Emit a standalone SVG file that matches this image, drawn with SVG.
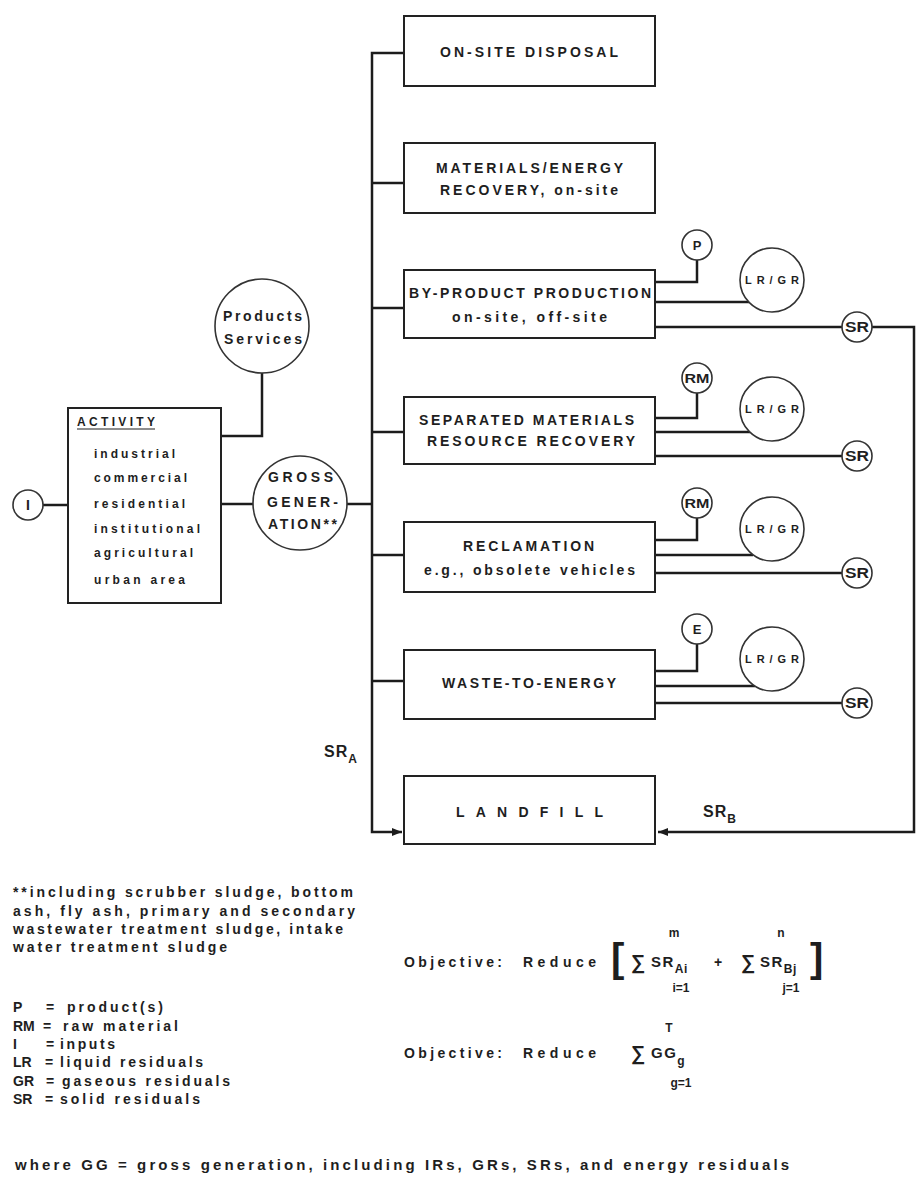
<svg xmlns="http://www.w3.org/2000/svg" width="917" height="1181" viewBox="0 0 917 1181">
<style>
.ln{stroke:#1c1c1c;stroke-width:2.5;fill:none}
.bx{fill:#fff;stroke:#222;stroke-width:2}
.cc{fill:#fff;stroke:#333;stroke-width:1.6}
.t{font-family:"Liberation Sans",Arial,sans-serif;font-weight:bold;fill:#1e1e1e}
.b{font-size:14px}
.s{font-size:12px}
.m{text-anchor:middle}
</style>
<defs>
<marker id="ah" viewBox="0 0 10 10" refX="10" refY="5" markerWidth="4" markerHeight="4" orient="auto" markerUnits="strokeWidth">
<path d="M0,1 L10,5 L0,9 z" fill="#1c1c1c"/>
</marker>
</defs>
<rect width="917" height="1181" fill="#fff"/>

<g id="connectors">
<path class="ln" d="M404,53 H372 V832 H402" marker-end="url(#ah)"/>
<path class="ln" d="M372,183 H404 M372,308 H404 M372,432 H404 M372,555 H404 M372,681 H404"/>
<path class="ln" d="M43,505 H68 M221,504 H253 M347,504 H372 M221,436 H262 V373"/>
<path class="ln" d="M655,282 H697 V260 M655,302 H749 M655,327 H842"/>
<path class="ln" d="M872,327 H914 V832 H658" marker-end="url(#ah)"/>
<path class="ln" d="M655,418 H697 V393 M655,432 H750 M655,456 H842"/>
<path class="ln" d="M655,540 H697 V518 M655,555 H753 M655,573 H842"/>
<path class="ln" d="M655,671 H697 V644 M655,686 H755 M655,703 H842"/>
</g>

<g id="onsite-disposal">
<rect class="bx" x="404" y="16" width="251" height="70"/>
<text class="t b" x="440" y="57" textLength="178" lengthAdjust="spacing">ON-SITE DISPOSAL</text>
</g>
<g id="materials-energy">
<rect class="bx" x="404" y="143" width="251" height="70"/>
<text class="t b" x="436" y="173" textLength="187" lengthAdjust="spacing">MATERIALS/ENERGY</text>
<text class="t b" x="440" y="195" textLength="178" lengthAdjust="spacing">RECOVERY, on-site</text>
</g>
<g id="by-product">
<rect class="bx" x="404" y="270" width="251" height="68"/>
<text class="t b" x="409" y="298" textLength="242" lengthAdjust="spacing">BY-PRODUCT PRODUCTION</text>
<text class="t b" x="452" y="322" textLength="155" lengthAdjust="spacing">on-site, off-site</text>
</g>
<g id="separated">
<rect class="bx" x="404" y="397" width="251" height="67"/>
<text class="t b" x="419" y="425" textLength="215" lengthAdjust="spacing">SEPARATED MATERIALS</text>
<text class="t b" x="427" y="446" textLength="208" lengthAdjust="spacing">RESOURCE RECOVERY</text>
</g>
<g id="reclamation">
<rect class="bx" x="404" y="522" width="251" height="70"/>
<text class="t b" x="463" y="551" textLength="131" lengthAdjust="spacing">RECLAMATION</text>
<text class="t b" x="424" y="575" textLength="211" lengthAdjust="spacing">e.g., obsolete vehicles</text>
</g>
<g id="waste-to-energy">
<rect class="bx" x="404" y="650" width="251" height="69"/>
<text class="t b" x="442" y="688" textLength="174" lengthAdjust="spacing">WASTE-TO-ENERGY</text>
</g>
<g id="landfill">
<rect class="bx" x="404" y="776" width="251" height="68"/>
<text class="t b" x="456" y="817" textLength="147" lengthAdjust="spacing">LANDFILL</text>
</g>

<g id="activity">
<rect class="bx" x="68" y="408" width="153" height="195"/>
<text class="t s" x="77" y="426" textLength="78" lengthAdjust="spacing">ACTIVITY</text>
<line x1="77" y1="429" x2="155" y2="429" stroke="#1e1e1e" stroke-width="1.2"/>
<text class="t s" x="94" y="458" textLength="81" lengthAdjust="spacing">industrial</text>
<text class="t s" x="94" y="482" textLength="93" lengthAdjust="spacing">commercial</text>
<text class="t s" x="94" y="508" textLength="91" lengthAdjust="spacing">residential</text>
<text class="t s" x="94" y="533" textLength="106" lengthAdjust="spacing">institutional</text>
<text class="t s" x="94" y="557" textLength="99" lengthAdjust="spacing">agricultural</text>
<text class="t s" x="94" y="584" textLength="91" lengthAdjust="spacing">urban area</text>
</g>
<g id="inputs">
<circle class="cc" cx="28" cy="505" r="15"/>
<text class="t b m" x="28" y="510">I</text>
</g>
<g id="gross-generation">
<circle class="cc" cx="300" cy="503" r="47"/>
<text class="t b" x="268" y="482" textLength="65" lengthAdjust="spacing">GROSS</text>
<text class="t b" x="267" y="507" textLength="71" lengthAdjust="spacing">GENER-</text>
<text class="t b" x="268" y="529" textLength="69" lengthAdjust="spacing">ATION**</text>
</g>
<g id="products-services">
<circle class="cc" cx="262" cy="326" r="47"/>
<text class="t b" x="223" y="321" textLength="79" lengthAdjust="spacing">Products</text>
<text class="t b" x="224" y="344" textLength="78" lengthAdjust="spacing">Services</text>
</g>

<g id="p-circle"><circle class="cc" cx="697" cy="245" r="15"/><text class="t m" font-size="13" x="697" y="250">P</text></g>
<g id="lrgr-1"><circle class="cc" cx="772" cy="280" r="32"/><text class="t m" font-size="11" x="772" y="284" textLength="54" lengthAdjust="spacing">LR/GR</text></g>
<g id="sr-1"><circle class="cc" cx="857" cy="327" r="15"/><text class="t m" font-size="14" x="857" y="332" textLength="24" lengthAdjust="spacingAndGlyphs">SR</text></g>

<g id="rm-circle-1"><circle class="cc" cx="697" cy="378" r="15"/><text class="t m" font-size="13" x="697" y="383" textLength="25" lengthAdjust="spacingAndGlyphs">RM</text></g>
<g id="lrgr-2"><circle class="cc" cx="772" cy="409" r="32"/><text class="t m" font-size="11" x="772" y="413" textLength="54" lengthAdjust="spacing">LR/GR</text></g>
<g id="sr-2"><circle class="cc" cx="857" cy="456" r="15"/><text class="t m" font-size="14" x="857" y="461" textLength="24" lengthAdjust="spacingAndGlyphs">SR</text></g>

<g id="rm-circle-2"><circle class="cc" cx="697" cy="503" r="15"/><text class="t m" font-size="13" x="697" y="508" textLength="25" lengthAdjust="spacingAndGlyphs">RM</text></g>
<g id="lrgr-3"><circle class="cc" cx="772" cy="529" r="32"/><text class="t m" font-size="11" x="772" y="533" textLength="54" lengthAdjust="spacing">LR/GR</text></g>
<g id="sr-3"><circle class="cc" cx="857" cy="573" r="15"/><text class="t m" font-size="14" x="857" y="578" textLength="24" lengthAdjust="spacingAndGlyphs">SR</text></g>

<g id="e-circle"><circle class="cc" cx="697" cy="629" r="15"/><text class="t m" font-size="13" x="697" y="634">E</text></g>
<g id="lrgr-4"><circle class="cc" cx="772" cy="659" r="32"/><text class="t m" font-size="11" x="772" y="663" textLength="54" lengthAdjust="spacing">LR/GR</text></g>
<g id="sr-4"><circle class="cc" cx="857" cy="703" r="15"/><text class="t m" font-size="14" x="857" y="708" textLength="24" lengthAdjust="spacingAndGlyphs">SR</text></g>

<g id="labels">
<text class="t" font-size="16" x="324" y="757" letter-spacing="1">SR<tspan font-size="12" dy="6" letter-spacing="0">A</tspan></text>
<text class="t" font-size="16" x="703" y="817" letter-spacing="1">SR<tspan font-size="12" dy="6" letter-spacing="0">B</tspan></text>
</g>

<g id="notes">
<text class="t b" x="13" y="897" textLength="340" lengthAdjust="spacing">**including scrubber sludge, bottom</text>
<text class="t b" x="13" y="916" textLength="342" lengthAdjust="spacing">ash, fly ash, primary and secondary</text>
<text class="t b" x="13" y="934" textLength="330" lengthAdjust="spacing">wastewater treatment sludge, intake</text>
<text class="t b" x="13" y="952" textLength="214" lengthAdjust="spacing">water treatment sludge</text>
</g>

<g id="legend">
<text class="t b" x="13" y="1012">P</text><text class="t b" x="46" y="1012">=</text><text class="t b" x="67" y="1012" textLength="96" lengthAdjust="spacing">product(s)</text>
<text class="t b" x="13" y="1031">RM</text><text class="t b" x="43" y="1031">=</text><text class="t b" x="63" y="1031" textLength="115" lengthAdjust="spacing">raw material</text>
<text class="t b" x="13" y="1049">I</text><text class="t b" x="46" y="1049">=</text><text class="t b" x="60" y="1049" textLength="55" lengthAdjust="spacing">inputs</text>
<text class="t b" x="13" y="1067">LR</text><text class="t b" x="45" y="1067">=</text><text class="t b" x="60" y="1067" textLength="143" lengthAdjust="spacing">liquid residuals</text>
<text class="t b" x="13" y="1086">GR</text><text class="t b" x="46" y="1086">=</text><text class="t b" x="62" y="1086" textLength="168" lengthAdjust="spacing">gaseous residuals</text>
<text class="t b" x="13" y="1104">SR</text><text class="t b" x="45" y="1104">=</text><text class="t b" x="60" y="1104" textLength="140" lengthAdjust="spacing">solid residuals</text>
</g>

<g id="objective-1">
<text class="t b" x="404" y="967" textLength="98" lengthAdjust="spacing">Objective:</text>
<text class="t b" x="523" y="967" textLength="73" lengthAdjust="spacing">Reduce</text>
<text class="t" font-size="40" font-weight="normal" x="611" y="972">[</text>
<text class="t" font-size="20" font-weight="normal" x="631" y="969">∑</text>
<text class="t" font-size="15" x="651" y="967" letter-spacing="1.5">SR<tspan font-size="12" dy="6" letter-spacing="0.5">Ai</tspan></text>
<text class="t s m" x="674" y="937">m</text>
<text class="t s m" x="681" y="992">i=1</text>
<text class="t b" x="714" y="967">+</text>
<text class="t" font-size="20" font-weight="normal" x="741" y="969">∑</text>
<text class="t" font-size="15" x="760" y="967" letter-spacing="1.5">SR<tspan font-size="12" dy="6" letter-spacing="0.5">Bj</tspan></text>
<text class="t s m" x="781" y="937">n</text>
<text class="t s m" x="791" y="992">j=1</text>
<text class="t" font-size="40" font-weight="normal" x="810" y="972">]</text>
</g>
<g id="objective-2">
<text class="t b" x="404" y="1058" textLength="98" lengthAdjust="spacing">Objective:</text>
<text class="t b" x="523" y="1058" textLength="73" lengthAdjust="spacing">Reduce</text>
<text class="t" font-size="20" font-weight="normal" x="631" y="1060">∑</text>
<text class="t" font-size="15" x="651" y="1058" letter-spacing="1.5">GG<tspan font-size="12" dy="7" letter-spacing="0">g</tspan></text>
<text class="t s m" x="669" y="1032">T</text>
<text class="t s m" x="681" y="1087">g=1</text>
</g>

<g id="footer">
<text class="t" font-size="15" x="15" y="1170" textLength="774" lengthAdjust="spacing">where GG = gross generation, including IRs, GRs, SRs, and energy residuals</text>
</g>
</svg>
